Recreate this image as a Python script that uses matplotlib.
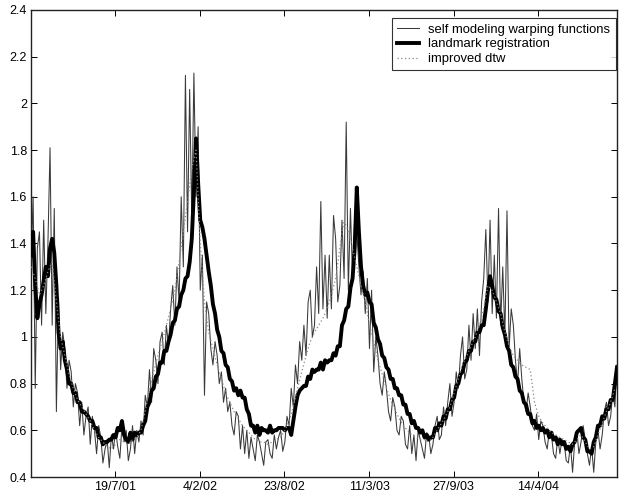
import matplotlib
matplotlib.use("Agg")
import matplotlib.pyplot as plt
import numpy as np

# x axis: day index, tick labels are dates
tick_days = [200, 400, 600, 800, 1000, 1200]
tick_labels = ["19/7/01", "4/2/02", "23/8/02", "11/3/03", "27/9/03", "14/4/04"]
y_ticks = [0.4, 0.6, 0.8, 1.0, 1.2, 1.4, 1.6, 1.8, 2.0, 2.2, 2.4]
y_tick_labels = ["0.4", "0.6", "0.8", "1", "1.2", "1.4", "1.6", "1.8", "2", "2.2", "2.4"]

# self modeling warping functions (every 5 days, starting at day 1)
self_modeling = [
    1.30, 1.60, 0.78, 1.38, 1.45, 1.05, 1.50, 1.10, 1.40, 1.81,
    1.05, 1.55, 0.68, 1.17, 0.86, 1.02, 0.95, 0.78, 0.90, 0.85,
    0.70, 0.80, 0.76, 0.62, 0.72, 0.58, 0.66, 0.70, 0.54, 0.66,
    0.60, 0.50, 0.62, 0.57, 0.46, 0.52, 0.56, 0.44, 0.58, 0.52,
    0.60, 0.53, 0.48, 0.62, 0.55, 0.60, 0.47, 0.52, 0.62, 0.50,
    0.60, 0.55, 0.64, 0.58, 0.75, 0.70, 0.86, 0.72, 0.95, 0.90,
    0.80, 0.98, 1.02, 0.88, 1.05, 0.96, 1.12, 1.22, 1.05, 1.30,
    1.15, 1.60, 1.30, 2.12, 1.45, 2.06, 1.50, 2.13, 1.60, 1.90,
    1.20, 1.35, 0.75, 1.15, 1.10, 0.95, 0.88, 0.98, 0.92, 0.80,
    0.85, 0.72, 0.78, 0.68, 0.72, 0.62, 0.58, 0.68, 0.66, 0.52,
    0.62, 0.50, 0.60, 0.48, 0.57, 0.52, 0.47, 0.58, 0.55, 0.50,
    0.45, 0.55, 0.56, 0.50, 0.48, 0.58, 0.52, 0.57, 0.60, 0.51,
    0.55, 0.66, 0.62, 0.78, 0.70, 0.88, 0.80, 0.98, 0.90, 1.05,
    0.92, 1.15, 1.20, 1.00, 1.05, 1.30, 1.10, 1.58, 1.12, 1.35,
    1.08, 1.35, 1.12, 1.52, 1.42, 1.15, 1.22, 1.50, 1.25, 1.92,
    1.20, 1.55, 1.25, 1.50, 1.45, 1.30, 1.18, 1.28, 1.10, 1.25,
    0.95, 1.20, 0.85, 1.00, 0.92, 0.80, 0.75, 0.85, 0.78, 0.68,
    0.64, 0.74, 0.70, 0.60, 0.58, 0.66, 0.64, 0.54, 0.52, 0.62,
    0.50, 0.58, 0.47, 0.60, 0.56, 0.52, 0.48, 0.59, 0.58, 0.50,
    0.54, 0.62, 0.66, 0.56, 0.58, 0.70, 0.62, 0.72, 0.80, 0.66,
    0.72, 0.85, 0.78, 0.92, 1.00, 0.82, 0.86, 1.05, 0.90, 1.10,
    0.95, 1.12, 0.92, 1.15, 1.25, 1.46, 1.15, 1.50, 1.10, 1.35,
    1.08, 1.55, 1.05, 1.30, 1.00, 1.54, 0.95, 1.12, 1.05, 0.90,
    0.80, 0.95, 0.82, 0.72, 0.68, 0.76, 0.70, 0.62, 0.60, 0.67,
    0.56, 0.64, 0.62, 0.55, 0.52, 0.60, 0.58, 0.50, 0.48, 0.57,
    0.50, 0.56, 0.55, 0.47, 0.46, 0.54, 0.42, 0.55, 0.60, 0.50,
    0.55, 0.62, 0.56, 0.50, 0.45, 0.53, 0.42, 0.55, 0.60, 0.52,
    0.58, 0.68, 0.72, 0.62, 0.66, 0.76, 0.70, 0.88,
]

# landmark registration (every 5 days, starting at day 1)
landmark = [
    1.35, 1.45, 1.22, 1.08, 1.14, 1.18, 1.24, 1.30, 1.26, 1.38,
    1.42, 1.36, 1.22, 1.02, 0.95, 0.98, 0.90, 0.86, 0.80, 0.80,
    0.76, 0.76, 0.72, 0.72, 0.68, 0.68, 0.67, 0.66, 0.64, 0.64,
    0.61, 0.61, 0.57, 0.57, 0.54, 0.55, 0.55, 0.56, 0.56, 0.58,
    0.57, 0.61, 0.60, 0.64, 0.58, 0.56, 0.55, 0.59, 0.56, 0.59,
    0.58, 0.59, 0.59, 0.62, 0.64, 0.70, 0.72, 0.77, 0.78, 0.83,
    0.84, 0.89, 0.89, 0.94, 0.94, 0.98, 1.01, 1.06, 1.07, 1.12,
    1.13, 1.18, 1.20, 1.25, 1.26, 1.32, 1.42, 1.62, 1.85, 1.66,
    1.50, 1.47, 1.42, 1.35, 1.28, 1.22, 1.14, 1.10, 1.03, 1.00,
    0.94, 0.93, 0.88, 0.87, 0.82, 0.81, 0.77, 0.78, 0.75, 0.77,
    0.74, 0.74, 0.69, 0.67, 0.62, 0.62, 0.59, 0.62, 0.58, 0.61,
    0.60, 0.60, 0.59, 0.62, 0.59, 0.60, 0.60, 0.61, 0.61, 0.61,
    0.60, 0.61, 0.61, 0.58, 0.64, 0.70, 0.75, 0.77, 0.78, 0.79,
    0.79, 0.83, 0.82, 0.86, 0.85, 0.86, 0.86, 0.89, 0.86, 0.90,
    0.89, 0.90, 0.90, 0.93, 0.92, 0.96, 0.96, 1.05, 1.07, 1.12,
    1.13, 1.21, 1.25, 1.38, 1.64, 1.45, 1.30, 1.22, 1.18, 1.19,
    1.15, 1.14, 1.06, 1.04, 0.99, 0.97, 0.92, 0.91, 0.87, 0.86,
    0.82, 0.82, 0.78, 0.78, 0.75, 0.75, 0.71, 0.71, 0.67, 0.67,
    0.63, 0.64, 0.61, 0.61, 0.59, 0.60, 0.57, 0.58, 0.56, 0.57,
    0.57, 0.61, 0.60, 0.63, 0.62, 0.66, 0.65, 0.69, 0.69, 0.73,
    0.74, 0.79, 0.80, 0.84, 0.85, 0.89, 0.90, 0.94, 0.94, 0.98,
    0.98, 1.02, 1.02, 1.05, 1.05, 1.12, 1.20, 1.26, 1.22, 1.17,
    1.16, 1.11, 1.10, 1.04, 1.01, 0.96, 0.94, 0.88, 0.87, 0.83,
    0.82, 0.77, 0.76, 0.72, 0.71, 0.67, 0.67, 0.63, 0.64, 0.61,
    0.62, 0.60, 0.61, 0.59, 0.60, 0.57, 0.59, 0.56, 0.57, 0.54,
    0.56, 0.54, 0.55, 0.52, 0.53, 0.51, 0.54, 0.55, 0.59, 0.60,
    0.61, 0.57, 0.56, 0.51, 0.51, 0.50, 0.55, 0.57, 0.62, 0.62,
    0.66, 0.65, 0.69, 0.69, 0.73, 0.73, 0.80, 0.87,
]

# improved dtw (every 10 days, starting at day 1)
improved_dtw = [
    1.30, 1.25, 1.18, 1.22, 1.28, 1.32, 1.15, 1.00, 0.92, 0.84,
    0.78, 0.73, 0.70, 0.67, 0.64, 0.60, 0.57, 0.55, 0.53, 0.52,
    0.54, 0.56, 0.55, 0.54, 0.56, 0.57, 0.60, 0.68, 0.78, 0.85,
    0.92, 0.98, 1.05, 1.12, 1.20, 1.32, 1.45, 1.58, 1.72, 1.80,
    1.40, 1.15, 1.02, 0.95, 0.88, 0.82, 0.76, 0.72, 0.68, 0.65,
    0.62, 0.60, 0.58, 0.56, 0.55, 0.55, 0.54, 0.55, 0.56, 0.57,
    0.60, 0.64, 0.70, 0.78, 0.85, 0.92, 0.98, 1.02, 1.05, 1.08,
    1.12, 1.18, 1.25, 1.38, 1.50, 1.45, 1.38, 1.30, 1.22, 1.15,
    1.05, 0.98, 0.90, 0.84, 0.78, 0.73, 0.69, 0.65, 0.62, 0.60,
    0.58, 0.57, 0.56, 0.56, 0.55, 0.57, 0.60, 0.63, 0.66, 0.70,
    0.76, 0.82, 0.88, 0.92, 0.96, 1.00, 1.05, 1.12, 1.22, 1.20,
    1.15, 1.10, 1.02, 0.96, 0.92, 0.90, 0.88, 0.87, 0.86, 0.72,
    0.66, 0.63, 0.61, 0.59, 0.58, 0.57, 0.56, 0.55, 0.54, 0.56,
    0.58, 0.55, 0.52, 0.53, 0.58, 0.63, 0.68, 0.72, 0.78,
]

days5 = 1 + 5 * np.arange(len(self_modeling))
days10 = 1 + 10 * np.arange(len(improved_dtw))

plt.rcParams['font.family'] = ['Liberation Sans', 'DejaVu Sans']

fig = plt.figure(figsize=(6.19, 5.00), dpi=100)
ax = fig.add_axes([31 / 619, 1 - 477 / 500, (617 - 31) / 619, (477 - 10) / 500])

ax.plot(days5, self_modeling, color='#3a3a3a', lw=0.75, label='self modeling warping functions', zorder=2)
ax.plot(days5, landmark, color='black', lw=2.8, label='landmark registration', zorder=3)
ax.plot(days10, improved_dtw, color='#888888', lw=0.9, linestyle=(0, (1, 2)), label='improved dtw', zorder=4)

ax.set_xlim(1, 1386)
ax.set_ylim(0.4, 2.4)
ax.set_xticks(tick_days)
ax.set_xticklabels(tick_labels)
ax.set_yticks(y_ticks)
ax.set_yticklabels(y_tick_labels)
ax.tick_params(direction='in', length=4, width=0.7, top=True, right=True, labelsize=9, pad=3)
for s in ax.spines.values():
    s.set_linewidth(1.0)
    s.set_color('#222222')

leg = ax.legend(loc='upper right', bbox_to_anchor=(1.0, 0.985), fontsize=9.4, frameon=True,
                fancybox=False, borderpad=0.4, labelspacing=0.2, handlelength=1.7,
                handletextpad=0.7, borderaxespad=0.1)
leg.get_frame().set_edgecolor('black')
leg.get_frame().set_linewidth(0.8)

fig.savefig('out.png', dpi=100)
